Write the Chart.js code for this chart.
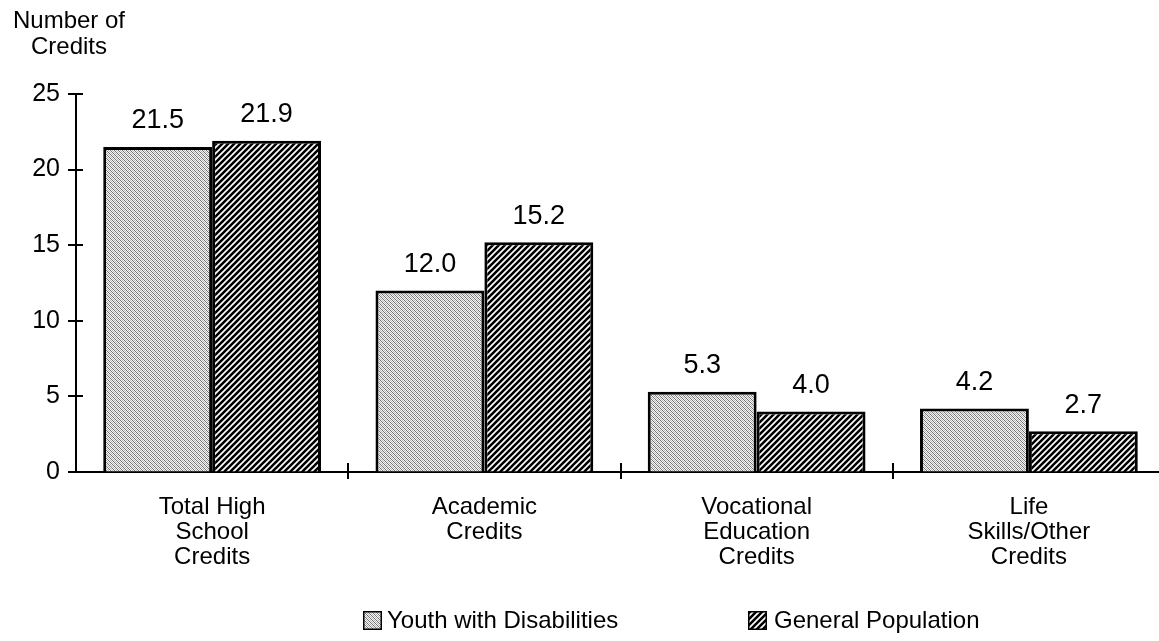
<!DOCTYPE html>
<html><head><meta charset="utf-8">
<script src="https://cdn.jsdelivr.net/npm/chart.js@4"></script>
<style>html,body{margin:0;padding:0;background:#fff;overflow:hidden;width:1159px;height:641px}</style>
</head><body>
<canvas id="c" width="1165" height="641"></canvas>
<script>
const categories = [['Total High','School','Credits'],['Academic','Credits'],['Vocational','Education','Credits'],['Life','Skills/Other','Credits']];
const youthValues = [21.5, 12.0, 5.3, 4.2];
const generalValues = [21.9, 15.2, 4.0, 2.7];
const seriesNames = ['Youth with Disabilities', 'General Population'];
const yTicks = [0, 5, 10, 15, 20, 25];
const axisTitle = ['Number of', 'Credits'];

const FONT = "'Liberation Sans', Arial, Helvetica, sans-serif";

function stipplePattern(ctx) {
  const c = document.createElement('canvas'); c.width = 4; c.height = 4;
  const g = c.getContext('2d');
  const img = g.createImageData(4, 4);
  for (let y = 0; y < 4; y++) for (let x = 0; x < 4; x++) {
    let v;
    if ((x + y) % 2 === 0) v = ((x - y + 8) % 4 === 0) ? 115 : 180;
    else v = 245;
    const i = (y * 4 + x) * 4;
    img.data[i] = img.data[i+1] = img.data[i+2] = v; img.data[i+3] = 255;
  }
  g.putImageData(img, 0, 0);
  return ctx.createPattern(c, 'repeat');
}
function hatchPattern(ctx) {
  const s = 6;
  const c = document.createElement('canvas'); c.width = s; c.height = s;
  const g = c.getContext('2d');
  g.fillStyle = '#fff'; g.fillRect(0, 0, s, s);
  g.strokeStyle = '#000'; g.lineWidth = 2.6; g.lineCap = 'square';
  g.beginPath();
  g.moveTo(-2, 2); g.lineTo(2, -2);
  g.moveTo(-1, s + 1); g.lineTo(s + 1, -1);
  g.moveTo(s - 2, s + 2); g.lineTo(s + 2, s - 2);
  g.stroke();
  return ctx.createPattern(c, 'repeat');
}

const canvas = document.getElementById('c');
const ctx = canvas.getContext('2d');
const patYouth = stipplePattern(ctx);
const patGen = hatchPattern(ctx);
const seriesValues = [youthValues, generalValues];

const decorPlugin = {
  id: 'decor',
  afterDatasetsDraw(chart) {
    const c = chart.ctx;
    c.save();
    c.fillStyle = '#000';
    c.font = '27px ' + FONT;
    c.textAlign = 'center'; c.textBaseline = 'middle';
    chart.data.datasets.forEach((ds, i) => {
      chart.getDatasetMeta(i).data.forEach((bar, j) => {
        c.fillText(seriesValues[i][j].toFixed(1), bar.x, bar.y - 26);
      });
    });
    c.restore();
  },
  afterDraw(chart) {
    const c = chart.ctx;
    const xs = chart.scales.x, ys = chart.scales.y;
    const a = chart.chartArea;
    c.save();
    c.strokeStyle = '#000'; c.lineWidth = 2;
    c.beginPath();
    yTicks.forEach(v => {
      const py = Math.round(ys.getPixelForValue(v));
      c.moveTo(a.left - 8, py); c.lineTo(a.left + 7, py);
    });
    for (let j = 1; j < categories.length; j++) {
      const px = Math.round((xs.getPixelForValue(j - 1) + xs.getPixelForValue(j)) / 2);
      c.moveTo(px, a.bottom - 9); c.lineTo(px, a.bottom + 7);
    }
    c.stroke();
    // axis title
    c.fillStyle = '#000';
    c.font = '24px ' + FONT;
    c.textAlign = 'center'; c.textBaseline = 'middle';
    c.fillText(axisTitle[0], 69, 21);
    c.fillText(axisTitle[1], 69, 47);
    // legend
    const items = [{box: 363, text: 387}, {box: 748, text: 774}];
    c.font = '24px ' + FONT;
    c.textAlign = 'left';
    chart.data.datasets.forEach((ds, i) => {
      const it = items[i];
      c.fillStyle = ds.backgroundColor;
      c.fillRect(it.box, 611, 19, 19);
      c.lineWidth = 1.5; c.strokeStyle = '#000';
      c.strokeRect(it.box + 0.75, 611.75, 17.5, 17.5);
      c.fillStyle = '#000';
      c.fillText(ds.label, it.text, 621);
    });
    c.restore();
  }
};

new Chart(ctx, {
  type: 'bar',
  data: {
    labels: categories,
    datasets: [
      { label: seriesNames[0], data: youthValues, backgroundColor: patYouth, borderColor: '#000', borderWidth: 3, borderSkipped: 'bottom' },
      { label: seriesNames[1], data: generalValues, backgroundColor: patGen, borderColor: '#000', borderWidth: 3, borderSkipped: 'bottom' }
    ]
  },
  options: {
    responsive: false, animation: false, devicePixelRatio: 1,
    layout: { padding: { top: 94, left: 0, right: 0, bottom: 49 } },
    datasets: { bar: { categoryPercentage: 0.8, barPercentage: 1 } },
    plugins: { legend: { display: false }, tooltip: { enabled: false } },
    scales: {
      x: {
        grid: { display: true, drawOnChartArea: false, drawTicks: false },
        border: { display: true, color: '#000', width: 2 },
        ticks: { color: '#000', font: { family: FONT, size: 24, lineHeight: 1.04 }, padding: 23, maxRotation: 0, autoSkip: false },
        afterFit(s) { s.height = 120; }
      },
      y: {
        min: 0, max: 25,
        grid: { display: true, drawOnChartArea: false, drawTicks: false },
        border: { display: true, color: '#000', width: 2 },
        ticks: { color: '#000', font: { family: FONT, size: 25 }, padding: 16 },
        afterBuildTicks(s) { s.ticks = yTicks.map(v => ({ value: v })); },
        afterFit(s) { s.width = 76; }
      }
    }
  },
  plugins: [decorPlugin]
});
</script>
</body></html>
